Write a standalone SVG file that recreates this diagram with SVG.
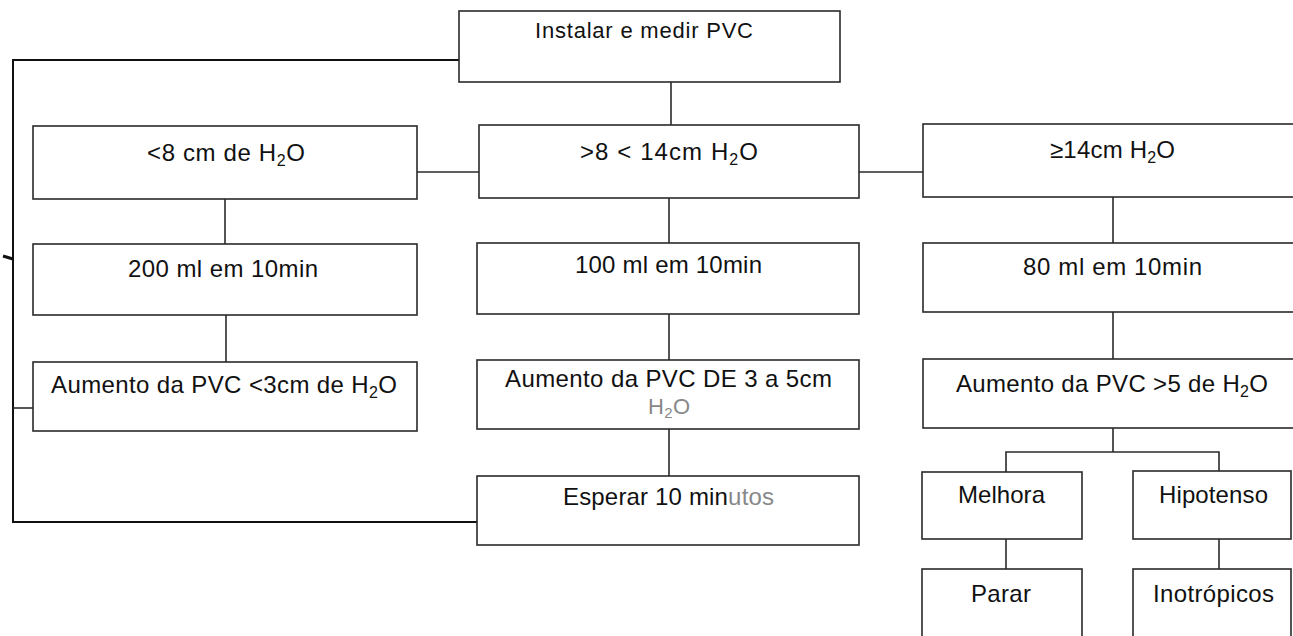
<svg xmlns="http://www.w3.org/2000/svg" width="1293" height="636" viewBox="0 0 1293 636">
<style>
.box{fill:#fff;stroke:#2a2a2a;stroke-width:1.6}
.ln{fill:none;stroke:#2a2a2a;stroke-width:1.6}
.t{font-family:"Liberation Sans",Arial,sans-serif;font-size:24px;fill:#111}
.g{fill:#888}
</style>
<rect width="1293" height="636" fill="#fff"/>
<g id="connectors">
<path class="ln" d="M459,60 H13 V522 H477" style="stroke:#111;stroke-width:2"/>
<path class="ln" d="M13,408 H33"/>
<path class="ln" d="M3,256 L13,259" style="stroke:#111;stroke-width:3"/>
<path class="ln" d="M671,82 V125"/>
<path class="ln" d="M417,172 H479"/>
<path class="ln" d="M859,172 H923"/>
<path class="ln" d="M225,199 V244"/>
<path class="ln" d="M226,315 V362"/>
<path class="ln" d="M669,198 V243"/>
<path class="ln" d="M669,314 V360"/>
<path class="ln" d="M669,429 V476"/>
<path class="ln" d="M1113,197 V243"/>
<path class="ln" d="M1113,312 V359"/>
<path class="ln" d="M1113,428 V452 M1006,472 V452 H1219 V471"/>
<path class="ln" d="M1006,539 V569"/>
<path class="ln" d="M1219,539 V569"/>
</g>
<g id="n_top"><rect class="box" x="459" y="11" width="381" height="71"/><text class="t" x="535" y="38" style="font-size:22px" textLength="218" lengthAdjust="spacing">Instalar e medir PVC</text></g>
<g id="n_lt8"><rect class="box" x="33" y="126" width="384" height="73"/><text class="t" x="147" y="161" textLength="158" lengthAdjust="spacing">&lt;8 cm de H<tspan font-size="16" dy="5">2</tspan><tspan dy="-5">O</tspan></text></g>
<g id="n_8_14"><rect class="box" x="479" y="125" width="380" height="73"/><text class="t" x="580" y="160" textLength="178" lengthAdjust="spacing">&gt;8 &lt; 14cm H<tspan font-size="16" dy="5">2</tspan><tspan dy="-5">O</tspan></text></g>
<g id="n_ge14"><rect class="box" x="923" y="124" width="380" height="73"/><text class="t" x="1050" y="158" textLength="125" lengthAdjust="spacing">≥14cm H<tspan font-size="16" dy="5">2</tspan><tspan dy="-5">O</tspan></text></g>
<g id="n_200"><rect class="box" x="33" y="244" width="384" height="71"/><text class="t" x="128" y="277" textLength="190" lengthAdjust="spacing">200 ml em 10min</text></g>
<g id="n_100"><rect class="box" x="477" y="243" width="382" height="71"/><text class="t" x="575" y="273" textLength="187" lengthAdjust="spacing">100 ml em 10min</text></g>
<g id="n_80"><rect class="box" x="923" y="243" width="380" height="69"/><text class="t" x="1023" y="275" textLength="179" lengthAdjust="spacing">80 ml em 10min</text></g>
<g id="n_aum3"><rect class="box" x="33" y="362" width="384" height="69"/><text class="t" x="51" y="393" textLength="346" lengthAdjust="spacing">Aumento da PVC &lt;3cm de H<tspan font-size="16" dy="5">2</tspan><tspan dy="-5">O</tspan></text></g>
<g id="n_aumDE"><rect class="box" x="477" y="360" width="382" height="69"/><text class="t" x="505" y="387" textLength="327" lengthAdjust="spacing">Aumento da PVC DE 3 a 5cm</text><text class="t g" x="648" y="414" style="font-size:22px" textLength="42" lengthAdjust="spacing">H<tspan font-size="15" dy="4">2</tspan><tspan dy="-4">O</tspan></text></g>
<g id="n_aum5"><rect class="box" x="923" y="359" width="380" height="69"/><text class="t" x="956" y="392" textLength="312" lengthAdjust="spacing">Aumento da PVC &gt;5 de H<tspan font-size="16" dy="5">2</tspan><tspan dy="-5">O</tspan></text></g>
<g id="n_esperar"><rect class="box" x="477" y="476" width="382" height="69"/><text class="t" x="563" y="505" textLength="211" lengthAdjust="spacing">Esperar 10 min<tspan class="g">utos</tspan></text></g>
<g id="n_melhora"><rect class="box" x="922" y="472" width="160" height="67"/><text class="t" x="958" y="503" textLength="87" lengthAdjust="spacing">Melhora</text></g>
<g id="n_hipo"><rect class="box" x="1133" y="471" width="158" height="68"/><text class="t" x="1159" y="503" textLength="109" lengthAdjust="spacing">Hipotenso</text></g>
<g id="n_parar"><rect class="box" x="922" y="569" width="160" height="80"/><text class="t" x="971" y="602" textLength="60" lengthAdjust="spacing">Parar</text></g>
<g id="n_inotr"><rect class="box" x="1133" y="569" width="158" height="80"/><text class="t" x="1153" y="602" textLength="121" lengthAdjust="spacing">Inotrópicos</text></g>
</svg>
